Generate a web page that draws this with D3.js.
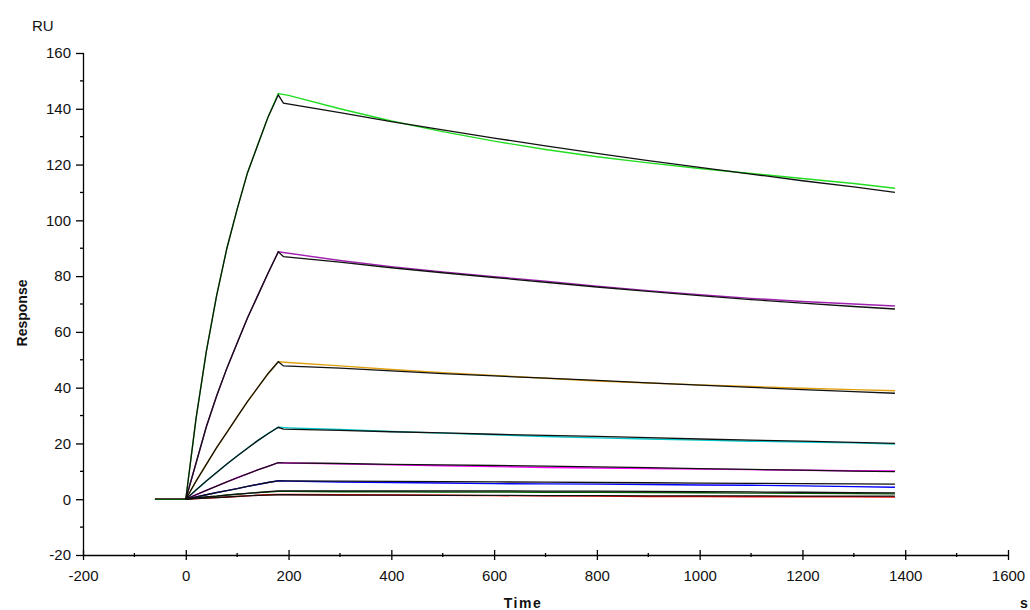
<!DOCTYPE html>
<html>
<head>
<meta charset="utf-8">
<script src="https://cdn.jsdelivr.net/npm/d3@7"></script>
<style>
  body { margin: 0; background: #fff; }
  svg text { font-family: "Liberation Sans", Arial, sans-serif; fill: #111; }
  .tick text { font-size: 15px; }
</style>
</head>
<body>
<div id="chart"></div>
<script>
// time points (s)
const tBase = [-60];
const tAssoc = [0, 20, 40, 60, 80, 100, 120, 140, 160, 180];
const tDiss = [200, 300, 400, 500, 600, 700, 800, 900, 1000, 1100, 1200, 1300, 1380];
const tFitDiss = [190, 300, 400, 500, 600, 700, 800, 900, 1000, 1100, 1200, 1300, 1380];

// measured responses (RU), one per concentration
const greenData = [0, 0, 29, 53, 73, 90, 104, 117, 127, 137, 145.5, 144.8, 140, 135.6, 131.8, 128.4, 125.4, 122.8, 120.6, 118.6, 116.8, 115, 113.2, 111.5];
const purpleData = [0, 0, 13, 26, 37, 47, 56, 65, 73, 81, 88.7, 88.2, 85.6, 83.4, 81.5, 79.8, 78.2, 76.4, 74.8, 73.3, 72, 70.9, 70, 69.3];
const orangeData = [0, 0, 6.5, 12.5, 18.5, 24, 29.5, 35, 40, 45, 49.3, 49, 47.8, 46.5, 45.4, 44.4, 43.4, 42.4, 41.7, 41, 40.4, 39.8, 39.3, 38.9];
const cyanData = [0, 0, 3.3, 6.5, 9.6, 12.6, 15.5, 18.3, 21, 23.5, 25.8, 25.6, 25, 24.3, 23.7, 23.1, 22.5, 22, 21.6, 21.2, 20.8, 20.5, 20.2, 19.8];
const magentaData = [0, 0, 1.6, 3.2, 4.7, 6.2, 7.7, 9.1, 10.5, 11.8, 13.1, 13, 12.7, 12.3, 12, 11.7, 11.4, 11.2, 11, 10.8, 10.6, 10.4, 10.2, 10.1];
const blueData = [0, 0, 0.8, 1.6, 2.4, 3.1, 3.8, 4.6, 5.3, 6, 6.6, 6.5, 6.2, 6, 5.8, 5.6, 5.5, 5.4, 5.3, 5.1, 5, 4.8, 4.5, 4.3];
const redData = [0, 0, 0.2, 0.4, 0.6, 0.8, 1, 1.2, 1.4, 1.6, 1.75, 1.7, 1.6, 1.5, 1.4, 1.3, 1.2, 1.1, 1, 1, 0.9, 0.9, 0.9, 0.8];
const darkGreenData = [0, 0, 0.4, 0.8, 1.1, 1.5, 1.8, 2.1, 2.4, 2.6, 2.8, 2.8, 2.7, 2.7, 2.6, 2.6, 2.5, 2.5, 2.4, 2.3, 2.2, 2.1, 2, 1.9];

// fitted curves (black)
const greenFit = [0, 29, 53, 73, 90, 104, 117, 127, 137, 145, 142, 138.6, 135.4, 132.4, 129.5, 126.7, 124, 121.4, 119, 116.6, 114.2, 112, 110];
const purpleFit = [0, 13, 26, 37, 47, 56, 65, 73, 81, 88.7, 87, 85, 83, 81.2, 79.5, 77.8, 76.1, 74.5, 73, 71.6, 70.3, 69.1, 68.2];
const orangeFit = [0, 6.5, 12.5, 18.5, 24, 29.5, 35, 40, 45, 49.3, 47.8, 47, 46, 45, 44.2, 43.4, 42.6, 41.7, 40.9, 40.1, 39.3, 38.6, 38];
const cyanFit = [0, 3.3, 6.5, 9.6, 12.6, 15.5, 18.3, 21, 23.5, 25.8, 25.1, 24.7, 24.2, 23.8, 23.3, 22.9, 22.5, 22.1, 21.6, 21.2, 20.8, 20.4, 20];
const magentaFit = [0, 1.6, 3.2, 4.7, 6.2, 7.7, 9.1, 10.5, 11.8, 13.1, 13, 12.8, 12.5, 12.3, 12.1, 11.9, 11.6, 11.3, 11, 10.7, 10.4, 10.1, 9.9];
const blueFit = [0, 0.8, 1.6, 2.4, 3.1, 3.8, 4.6, 5.3, 6, 6.6, 6.6, 6.5, 6.4, 6.3, 6.2, 6.1, 6, 5.9, 5.8, 5.7, 5.6, 5.5, 5.4];
const darkGreenFit = [0, 0.4, 0.8, 1.1, 1.5, 1.8, 2.1, 2.4, 2.7, 3, 3, 3, 3, 3, 3, 2.9, 2.9, 2.8, 2.7, 2.6, 2.5, 2.4, 2.3];
const redFit = [0, 0.2, 0.4, 0.6, 0.8, 1, 1.2, 1.4, 1.5, 1.6, 1.6, 1.5, 1.5, 1.4, 1.4, 1.3, 1.3, 1.2, 1.2, 1.2, 1.1, 1.1, 1.1];

const xTicks = [-200, 0, 200, 400, 600, 800, 1000, 1200, 1400, 1600];
const yTicks = [-20, 0, 20, 40, 60, 80, 100, 120, 140, 160];

const dataTimes = [...tBase, ...tAssoc, ...tDiss];
const fitTimes = [...tAssoc, ...tFitDiss];

const series = [
  { values: greenData, color: "#22dd22" },
  { values: purpleData, color: "#a020b0" },
  { values: orangeData, color: "#e0a010" },
  { values: cyanData, color: "#00c8c8" },
  { values: magentaData, color: "#ff00ff" },
  { values: blueData, color: "#0000ff" },
  { values: redData, color: "#ff0000" },
  { values: darkGreenData, color: "#005a00" },
];
const fits = [greenFit, purpleFit, orangeFit, cyanFit, magentaFit, blueFit, darkGreenFit, redFit];

const width = 1030, height = 610;

const svg = d3
  .select("#chart")
  .append("svg")
  .attr("width", width)
  .attr("height", height);

const x = d3.scaleLinear().domain([-200, 1600]).range([83, 1008]);
const y = d3.scaleLinear().domain([-20, 160]).range([555, 53]);

// X axis with crossing ticks
const xAxis = svg
  .append("g")
  .attr("transform", `translate(0, ${y(-20)})`)
  .call(
    d3.axisBottom(x).tickValues(xTicks).tickFormat((d) => String(d))
      .tickSize(5).tickSizeOuter(0).tickPadding(10)
  );
xAxis.selectAll(".tick line").attr("y1", -5).attr("stroke-width", 1.3);
xAxis.select(".domain").attr("stroke-width", 1.3);

// minor x ticks
svg
  .append("g")
  .selectAll("line")
  .data(xTicks.slice(0, -1).map((d) => d + 100))
  .join("line")
  .attr("x1", (d) => x(d))
  .attr("x2", (d) => x(d))
  .attr("y1", y(-20) - 2)
  .attr("y2", y(-20) + 2)
  .attr("stroke", "#000")
  .attr("stroke-width", 1.3);

// Y axis
const yAxis = svg
  .append("g")
  .attr("transform", `translate(${x(-200)}, 0)`)
  .call(
    d3.axisLeft(y).tickValues(yTicks).tickFormat((d) => String(d))
      .tickSize(7).tickSizeOuter(0).tickPadding(5)
  );
yAxis.selectAll(".tick line").attr("x1", 1).attr("stroke-width", 1.3);
yAxis.select(".domain").attr("stroke-width", 1.3);

// minor y ticks
svg
  .append("g")
  .selectAll("line")
  .data(yTicks.slice(0, -1).map((d) => d + 10))
  .join("line")
  .attr("x1", x(-200) - 3)
  .attr("x2", x(-200))
  .attr("y1", (d) => y(d))
  .attr("y2", (d) => y(d))
  .attr("stroke", "#000")
  .attr("stroke-width", 1.3);

// titles
svg.append("text").attr("x", 32).attr("y", 31).style("font-size", "15px").text("RU");
svg
  .append("text")
  .attr("transform", `translate(27, 313) rotate(-90)`)
  .attr("text-anchor", "middle")
  .style("font-size", "14px")
  .attr("font-weight", "bold")
  .text("Response");
svg
  .append("text")
  .attr("x", 523)
  .attr("y", 608)
  .attr("text-anchor", "middle")
  .style("font-size", "14px")
  .attr("font-weight", "bold")
  .attr("letter-spacing", 1.5)
  .text("Time");
svg
  .append("text")
  .attr("x", 1020)
  .attr("y", 608)
  .style("font-size", "14px")
  .attr("font-weight", "bold")
  .text("s");

const line = d3
  .line()
  .x((d) => x(d[0]))
  .y((d) => y(d[1]));

// measured curves
svg
  .append("g")
  .selectAll("path")
  .data(series)
  .join("path")
  .attr("fill", "none")
  .attr("stroke", (d) => d.color)
  .attr("stroke-width", 1.4)
  .attr("d", (d) => line(d.values.map((v, i) => [dataTimes[i], v])));

// fitted curves
svg
  .append("g")
  .selectAll("path")
  .data(fits)
  .join("path")
  .attr("fill", "none")
  .attr("stroke", "#111")
  .attr("stroke-width", 1.3)
  .attr("d", (d) => line(d.map((v, i) => [fitTimes[i], v])));
</script>
</body>
</html>
